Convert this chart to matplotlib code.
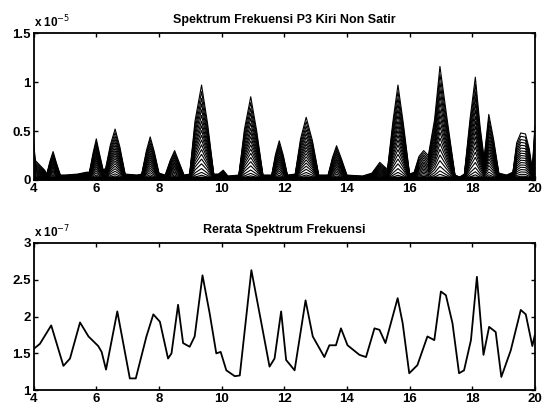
import numpy as np
import matplotlib
matplotlib.use("Agg")
import matplotlib.pyplot as plt

plt.rcParams['font.family'] = ['Liberation Sans', 'DejaVu Sans']

# top panel: upper envelope of the spectra (x 1e-5)
freq_env = [4.0, 4.05, 4.2, 4.35, 4.42, 4.52, 4.62, 4.72, 4.85, 5.0, 5.4, 5.7,
            5.78, 5.9, 6.0, 6.1, 6.22, 6.3, 6.45, 6.6, 6.75, 6.92, 7.3,
            7.45, 7.6, 7.72, 7.85, 8.0, 8.2, 8.36, 8.5, 8.62, 8.8,
            8.98, 9.15, 9.36, 9.55, 9.75, 9.9, 10.05, 10.2,
            10.55, 10.73, 10.93, 11.12, 11.32, 11.6, 11.72, 11.84, 11.97, 12.1,
            12.35, 12.52, 12.7, 12.9, 13.1, 13.4, 13.54, 13.67, 13.82, 14.0,
            14.5, 14.8, 15.05, 15.25, 15.3, 15.47, 15.63, 15.8, 16.0,
            16.15, 16.3, 16.45, 16.6, 16.8, 16.97, 17.2, 17.45, 17.6,
            17.75, 17.93, 18.1, 18.25, 18.38, 18.53, 18.68, 18.85, 19.1,
            19.3, 19.42, 19.55, 19.7, 19.82, 19.92, 20.0]
env_vals = [0.39, 0.20, 0.15, 0.10, 0.06, 0.19, 0.29, 0.18, 0.05, 0.05, 0.06, 0.08,
            0.08, 0.28, 0.42, 0.27, 0.10, 0.12, 0.36, 0.52, 0.34, 0.06, 0.05,
            0.06, 0.30, 0.44, 0.29, 0.07, 0.05, 0.20, 0.30, 0.20, 0.05,
            0.06, 0.60, 0.97, 0.58, 0.06, 0.06, 0.10, 0.04,
            0.05, 0.52, 0.85, 0.50, 0.05, 0.05, 0.26, 0.40, 0.25, 0.05,
            0.06, 0.42, 0.64, 0.40, 0.05, 0.05, 0.23, 0.35, 0.22, 0.05,
            0.04, 0.07, 0.18, 0.12, 0.12, 0.60, 0.97, 0.58, 0.06,
            0.08, 0.24, 0.30, 0.25, 0.62, 1.16, 0.62, 0.05, 0.03,
            0.06, 0.62, 1.05, 0.55, 0.22, 0.67, 0.42, 0.07, 0.05,
            0.08, 0.38, 0.48, 0.47, 0.32, 0.10, 0.55]
# relative size of each recorded spectrum against the envelope
trace_levels = [1.0, 0.93, 0.86, 0.8, 0.74, 0.68, 0.62, 0.57, 0.52, 0.47, 0.42,
                0.37, 0.32, 0.27, 0.22, 0.17, 0.12, 0.08, 0.05, 0.02]

# bottom panel: mean spectrum (x 1e-7)
freq_mean = [4.0, 4.2, 4.56, 4.95, 5.16, 5.48, 5.75, 6.06, 6.17, 6.31, 6.67, 7.07,
             7.26, 7.6, 7.82, 8.03, 8.29, 8.4, 8.61, 8.77, 8.98, 9.14, 9.39, 9.62,
             9.83, 9.97, 10.15, 10.42, 10.58, 10.95, 11.27, 11.53, 11.69, 11.9,
             12.06, 12.33, 12.68, 12.91, 13.28, 13.44, 13.65, 13.81, 14.02, 14.4,
             14.61, 14.88, 15.04, 15.23, 15.62, 15.78, 15.99, 16.25, 16.57, 16.79,
             17.0, 17.16, 17.37, 17.58, 17.74, 17.96, 18.15, 18.36, 18.54, 18.75,
             18.93, 19.23, 19.55, 19.71, 19.92, 20.0]
mean_vals = [1.56, 1.63, 1.88, 1.33, 1.43, 1.92, 1.73, 1.60, 1.52, 1.28, 2.07, 1.16,
             1.16, 1.73, 2.03, 1.93, 1.43, 1.50, 2.16, 1.64, 1.59, 1.73, 2.56, 2.04,
             1.50, 1.52, 1.27, 1.19, 1.20, 2.63, 1.91, 1.32, 1.43, 2.07, 1.41, 1.27,
             2.22, 1.73, 1.45, 1.61, 1.61, 1.84, 1.61, 1.48, 1.45, 1.84, 1.82, 1.64,
             2.25, 1.91, 1.23, 1.34, 1.73, 1.68, 2.34, 2.29, 1.91, 1.23, 1.27, 1.68,
             2.54, 1.48, 1.86, 1.79, 1.18, 1.54, 2.09, 2.03, 1.60, 1.75]

xticks = [4, 6, 8, 10, 12, 14, 16, 18, 20]

fig = plt.figure(figsize=(5.43, 4.09), dpi=100)
ax1 = fig.add_axes([0.062, 0.56, 0.923, 0.359])
ax2 = fig.add_axes([0.062, 0.046, 0.923, 0.36])

env = np.array(env_vals)
for lv in trace_levels:
    ax1.plot(freq_env, env * lv, color='black', lw=0.8)
ax1.fill_between(freq_env, 0, np.minimum(env, 0.04), color='black', lw=0)
ax1.set_xlim(4, 20)
ax1.set_ylim(0, 1.5)
ax1.set_yticks([0, 0.5, 1, 1.5])
ax1.set_yticklabels(['0', '0.5', '1', '1.5'])
ax1.set_title('Spektrum Frekuensi P3 Kiri Non Satir', fontsize=9, fontweight='bold', pad=7)
ax1.text(0.0, 1.02, 'x 10$^{-5}$', transform=ax1.transAxes, fontsize=8.5,
         fontweight='bold', ha='left', va='bottom')

ax2.plot(freq_mean, mean_vals, color='black', lw=1.3)
ax2.set_xlim(4, 20)
ax2.set_ylim(1, 3)
ax2.set_yticks([1, 1.5, 2, 2.5, 3])
ax2.set_yticklabels(['1', '1.5', '2', '2.5', '3'])
ax2.set_title('Rerata Spektrum Frekuensi', fontsize=9, fontweight='bold', pad=7)
ax2.text(0.0, 1.02, 'x 10$^{-7}$', transform=ax2.transAxes, fontsize=8.5,
         fontweight='bold', ha='left', va='bottom')

for ax in (ax1, ax2):
    ax.set_xticks(xticks)
    ax.set_xticklabels([str(t) for t in xticks])
    ax.tick_params(direction='in', top=True, right=True, length=3, width=1,
                   labelsize=9.5, pad=2)
    for lab in ax.get_xticklabels() + ax.get_yticklabels():
        lab.set_fontweight('bold')
    for sp in ax.spines.values():
        sp.set_linewidth(1.3)

fig.savefig('out.png', dpi=100)
